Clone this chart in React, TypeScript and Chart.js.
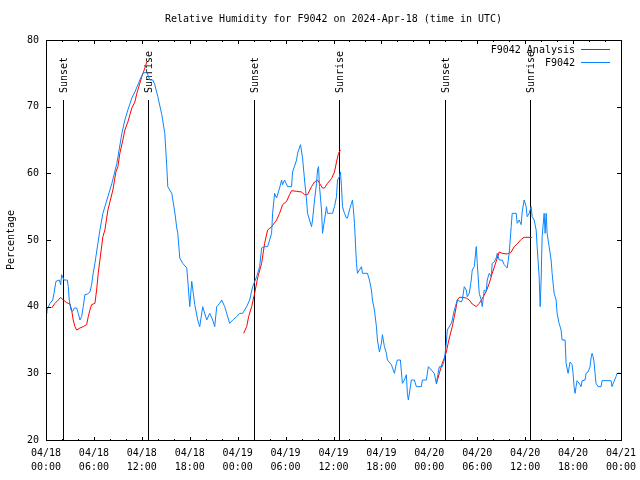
import { useEffect, useRef } from "react";
import { Chart, registerables } from "chart.js";

Chart.register(...registerables);

const FONT = '"DejaVu Sans Mono", "Liberation Mono", monospace';

const chartTitle = "Relative Humidity for F9042 on 2024-Apr-18 (time in UTC)";
const yAxisTitle = "Percentage";
const seriesNames = ["F9042 Analysis", "F9042"];

// x tick labels every 6 hours from 04/18 00:00 to 04/21 00:00
const xTickDates = ["04/18", "04/18", "04/18", "04/18", "04/19", "04/19", "04/19", "04/19", "04/20", "04/20", "04/20", "04/20", "04/21"];
const xTickTimes = ["00:00", "06:00", "12:00", "18:00", "00:00", "06:00", "12:00", "18:00", "00:00", "06:00", "12:00", "18:00", "00:00"];

// sunrise / sunset markers (hours since 04/18 00:00)
const sunHours = [2.125, 12.75, 26.0, 36.75, 50.0, 60.625];
const sunLabels = ["Sunset", "Sunrise", "Sunset", "Sunrise", "Sunset", "Sunrise"];

// Observed F9042 (hours since 04/18 00:00 UTC)
const blueHours = [0, 0.125, 0.5, 0.84, 1.0, 1.25, 1.66, 1.84, 1.96, 2.25, 2.66, 2.79, 2.91, 3.125, 3.34, 3.54, 3.84, 4.04, 4.25, 4.46, 4.66, 4.875, 5.21, 5.5, 5.71, 5.91, 6.125, 6.5, 6.75, 7.125, 7.75, 8.25, 8.875, 9.5, 9.875, 10.25, 10.75, 11.125, 11.75, 12.125, 12.625, 13.0, 13.375, 13.625, 14.0, 14.5, 14.875, 15.125, 15.25, 15.75, 16.125, 16.375, 16.5, 16.75, 17.125, 17.625, 17.75, 18.0, 18.25, 18.625, 19.0, 19.25, 19.625, 20.125, 20.5, 20.875, 21.125, 21.375, 21.75, 22.0, 22.375, 22.625, 23.0, 23.375, 23.875, 24.25, 24.625, 25.125, 25.5, 25.875, 26.375, 26.75, 27.0, 27.375, 27.75, 28.25, 28.375, 28.625, 28.875, 29.25, 29.5, 29.625, 29.875, 30.25, 30.75, 30.875, 31.375, 31.5, 31.875, 32.125, 32.375, 32.625, 32.75, 33.0, 33.25, 33.375, 33.625, 33.875, 34.0, 34.125, 34.25, 34.5, 34.625, 34.875, 35.125, 35.25, 35.75, 35.875, 36.125, 36.375, 36.5, 36.75, 36.875, 37.0, 37.125, 37.375, 37.625, 37.75, 38.0, 38.25, 38.375, 38.5, 38.625, 38.875, 39.0, 39.5, 39.625, 40.25, 40.5, 40.75, 40.875, 41.125, 41.375, 41.5, 41.75, 42.0, 42.125, 42.375, 42.625, 42.75, 43.25, 43.625, 43.875, 44.0, 44.375, 44.625, 44.875, 45.125, 45.25, 45.375, 45.75, 46.125, 46.375, 47.0, 47.125, 47.625, 47.875, 48.25, 48.625, 48.875, 49.25, 49.625, 49.875, 50.125, 50.25, 50.75, 50.875, 51.125, 51.375, 51.5, 52.0, 52.125, 52.375, 52.625, 52.75, 53.0, 53.25, 53.375, 53.625, 53.875, 54.0, 54.25, 54.5, 54.625, 54.875, 55.125, 55.25, 55.5, 55.75, 55.875, 56.125, 56.375, 56.5, 56.75, 57.125, 57.375, 57.75, 58.0, 58.25, 58.375, 58.875, 59.0, 59.25, 59.5, 59.625, 59.875, 60.125, 60.25, 60.5, 60.75, 60.875, 61.125, 61.375, 61.5, 61.75, 61.875, 62.0, 62.125, 62.375, 62.5, 62.625, 62.75, 63.0, 63.25, 63.375, 63.625, 63.875, 64.0, 64.25, 64.5, 64.625, 65.0, 65.125, 65.375, 65.625, 65.875, 66.0, 66.125, 66.25, 66.375, 66.5, 66.875, 67.0, 67.125, 67.5, 67.625, 67.875, 68.125, 68.25, 68.375, 68.5, 68.625, 68.75, 68.875, 69.125, 69.5, 69.625, 70.75, 70.875, 71.125, 71.375, 71.5, 72.0];
const blueValues = [39, 39.5, 40.5, 41, 42, 43.8, 44, 43.3, 44.8, 44, 44, 43, 41, 39.5, 39.3, 39.8, 39.8, 39, 38, 38.5, 40, 41.8, 41.9, 42.2, 43.3, 45, 46.5, 49.5, 51.5, 54, 56.5, 58.5, 61.5, 66, 68, 69.5, 71.3, 72.2, 74, 75, 75.2, 74, 74, 73.3, 71.5, 68.8, 66, 61, 58, 57, 54.2, 51.8, 51, 47.3, 46.5, 45.8, 44, 40, 43.8, 40.3, 38, 37, 40, 38, 39, 38, 37, 40, 40.5, 41, 40, 39, 37.5, 38, 38.5, 39, 39, 40, 41, 43, 44.5, 46, 48.8, 49, 49, 51, 54, 57, 56.3, 57.8, 59, 58.3, 59, 58, 58, 60.2, 62, 63, 64.3, 62.3, 59, 56, 54, 53, 52, 53, 56, 58.5, 60.5, 61, 58, 54.5, 51, 53, 55, 54, 54, 54, 55, 56.5, 59, 59.5, 60.2, 58, 55, 54, 53.3, 53.3, 54.5, 55.5, 56, 54.5, 52.5, 46.5, 45, 46, 45, 45, 44, 42.5, 41, 39.5, 37, 35, 33.2, 34.5, 35.8, 34, 33, 32, 31.3, 30, 31.5, 32, 32, 28.5, 29, 29.8, 27, 26, 29, 29, 28, 28, 29, 29, 31, 30.5, 30, 28.5, 31, 31, 32, 34.5, 36.5, 37.5, 38, 39.5, 40.5, 41, 40.7, 41, 43, 42.5, 41.5, 42, 44, 45.5, 46, 49, 46.5, 42, 41, 40, 42.5, 42.3, 44, 45, 44.5, 46.5, 46.7, 47.3, 48, 47, 47, 46.3, 45.8, 48, 52, 54, 54, 52.5, 53, 52.3, 54.2, 56, 55, 53.5, 54, 55, 53.5, 53, 51.5, 49, 44.5, 40, 44, 50.5, 54, 51, 54, 51, 49, 47, 45, 42, 41, 39, 37.5, 36.5, 35, 35, 31.5, 30, 31.7, 31.3, 30, 28, 27, 28, 28.9, 28.3, 28, 28.9, 29, 30, 30.2, 31, 32.3, 33, 32.5, 31.7, 30, 28.5, 28, 28, 28.9, 28.9, 28, 28.8, 29.5, 30, 30];

// F9042 Analysis (null = gap between segments)
const redHours = [0.71, 1.125, 1.54, 1.84, 2.16, 2.59, 3.0, 3.21, 3.41, 3.625, 3.84, 4.25, 4.66, 5.09, 5.29, 5.5, 5.71, 6.125, 6.34, 6.54, 6.75, 7.125, 7.375, 7.75, 8.375, 8.75, 9.0, 9.25, 9.625, 9.875, 10.25, 10.75, 11.125, 11.375, 11.75, 12.0, 12.375, 12.625,
  18.0,
  24.75, 25.125, 25.375, 25.75, 26.125, 26.5, 27.0, 27.375, 27.75, 28.25, 28.875, 29.25, 29.625, 30.125, 30.5, 30.75, 31.375, 32.0, 32.375, 32.75, 33.25, 33.625, 34.0, 34.25, 34.625, 34.875, 35.25, 35.75, 36.125, 36.375, 36.625, 36.875,
  42.0,
  48.875, 49.25, 49.625, 49.875, 50.125, 50.5, 50.875, 51.125, 51.375, 51.5, 51.75, 52.125, 52.625, 53.0, 53.375, 53.875, 54.25, 54.625, 55.125, 55.5, 55.875, 56.375, 56.75, 57.125, 57.75, 58.25, 58.625, 59.0, 59.5, 59.875, 60.75, 60.875];
const redValues = [39.8, 40.5, 41, 41.4, 41, 40.6, 40.4, 39.5, 38, 37, 36.5, 36.8, 37, 37.3, 38.5, 39.5, 40.3, 40.5, 42.5, 45, 47, 50.5, 51.5, 54.5, 57.5, 60.2, 61, 63, 65, 66.5, 67.7, 69.8, 70.7, 72, 73.5, 74.5, 75.8, 76.7,
  null,
  36, 37, 38.5, 40, 42, 44.3, 46.5, 49.5, 51.5, 52, 53, 54, 55.3, 55.8, 56.8, 57.4, 57.3, 57.2, 56.8, 56.8, 58, 58.7, 59, 58.5, 57.8, 57.8, 58.5, 59.2, 60.2, 61.7, 63, 63.5,
  null,
  28.4, 30, 31.5, 32.3, 33.2, 35.3, 37, 38.5, 40, 41, 41.4, 41.4, 41.3, 41, 40.4, 40, 40.5, 41.2, 42.3, 43.5, 45, 46.8, 48.2, 48, 47.9, 48.2, 49, 49.4, 50.1, 50.4, 50.4, 50.4];

const RED = "#ff0000";
const BLUE = "#0a84ff";

export default function App() {
  const ref = useRef<HTMLCanvasElement | null>(null);

  useEffect(() => {
    if (!ref.current) return;
    const blue = blueHours.map((h, i) => ({ x: h, y: blueValues[i] }));
    const red = redHours.map((h, i) => ({ x: h, y: redValues[i] }));

    const overlay = {
      id: "gnuplotOverlay",
      beforeDatasetsDraw(chart: any) {
        const ctx = chart.ctx as CanvasRenderingContext2D;
        const xs = chart.scales.x;
        const ys = chart.scales.y;
        const { bottom } = chart.chartArea;
        ctx.save();
        ctx.strokeStyle = "#000";
        ctx.fillStyle = "#000";
        ctx.lineWidth = 1;
        ctx.font = `10px ${FONT}`;
        const lineTop = Math.round(ys.getPixelForValue(71));
        sunHours.forEach((h, i) => {
          const px = Math.round(xs.getPixelForValue(h)) + 0.5;
          ctx.beginPath();
          ctx.moveTo(px, lineTop);
          ctx.lineTo(px, bottom);
          ctx.stroke();
          ctx.save();
          ctx.translate(px + 1, lineTop - 7);
          ctx.rotate(-Math.PI / 2);
          ctx.textAlign = "left";
          ctx.textBaseline = "middle";
          ctx.fillText(sunLabels[i], 0, 0);
          ctx.restore();
        });
        ctx.restore();
      },
      afterDraw(chart: any) {
        const ctx = chart.ctx as CanvasRenderingContext2D;
        const xs = chart.scales.x;
        const ys = chart.scales.y;
        const { left, right, top, bottom } = chart.chartArea;
        ctx.save();
        ctx.strokeStyle = "#000";
        ctx.fillStyle = "#000";
        ctx.lineWidth = 1;
        // frame
        ctx.strokeRect(left + 0.5, top + 0.5, right - left, bottom - top);
        // y ticks (inside, mirrored)
        ctx.beginPath();
        for (let v = 20; v <= 80; v += 10) {
          const py = Math.round(ys.getPixelForValue(v)) + 0.5;
          ctx.moveTo(left, py);
          ctx.lineTo(left + 5, py);
          ctx.moveTo(right + 1, py);
          ctx.lineTo(right - 4, py);
        }
        // x ticks every 2 hours, major every 6
        for (let h = 0; h <= 72; h += 2) {
          const px = Math.round(xs.getPixelForValue(h)) + 0.5;
          const len = h % 6 === 0 ? 4 : 2;
          ctx.moveTo(px, bottom + 1);
          ctx.lineTo(px, bottom + 1 - len);
          ctx.moveTo(px, top);
          ctx.lineTo(px, top + len);
        }
        ctx.stroke();

        ctx.font = `10px ${FONT}`;
        ctx.textBaseline = "middle";
        // title
        ctx.textAlign = "center";
        ctx.fillText(chartTitle, (left + right) / 2, 19);
        // y axis title
        ctx.save();
        ctx.translate(11, (top + bottom) / 2);
        ctx.rotate(-Math.PI / 2);
        ctx.fillText(yAxisTitle, 0, 0);
        ctx.restore();
        // legend
        const colors = [RED, BLUE];
        seriesNames.forEach((name, i) => {
          const y = 50 + i * 13;
          ctx.fillStyle = "#000";
          ctx.textAlign = "right";
          ctx.fillText(name, right - 46, y);
          ctx.strokeStyle = colors[i];
          ctx.beginPath();
          ctx.moveTo(right - 40, y - 0.5);
          ctx.lineTo(right - 11, y - 0.5);
          ctx.stroke();
        });
        ctx.restore();
      },
    };

    const chart = new Chart(ref.current, {
      type: "line",
      data: {
        datasets: [
          {
            label: seriesNames[0],
            data: red as any,
            borderColor: RED,
            backgroundColor: RED,
            borderWidth: 1,
            pointRadius: 0,
            spanGaps: false,
            tension: 0,
            order: 1,
          },
          {
            label: seriesNames[1],
            data: blue as any,
            borderColor: BLUE,
            backgroundColor: BLUE,
            borderWidth: 1,
            pointRadius: 0,
            tension: 0,
            order: 0,
          },
        ],
      },
      options: {
        animation: false,
        responsive: false,
        events: [],
        layout: { padding: { left: 0, top: 40, right: 19, bottom: 0 } },
        plugins: {
          legend: { display: false },
          title: { display: false },
          tooltip: { enabled: false },
        },
        scales: {
          x: {
            type: "linear",
            min: 0,
            max: 72,
            grid: { display: false, drawTicks: false },
            border: { display: false },
            ticks: {
              stepSize: 6,
              autoSkip: false,
              maxRotation: 0,
              padding: 6,
              color: "#000",
              font: { family: FONT, size: 10, lineHeight: 1.4 },
              callback: (v: any) => {
                const i = Math.round(Number(v) / 6);
                return [xTickDates[i], xTickTimes[i]];
              },
            },
            afterFit: (s: any) => {
              s.height = 40;
              s.paddingLeft = 0;
              s.paddingRight = 0;
            },
          },
          y: {
            min: 20,
            max: 80,
            grid: { display: false, drawTicks: false },
            border: { display: false },
            ticks: {
              stepSize: 10,
              padding: 7,
              color: "#000",
              font: { family: FONT, size: 10 },
            },
            afterFit: (s: any) => {
              s.width = 46;
              s.paddingTop = 0;
              s.paddingBottom = 0;
            },
          },
        },
      },
      plugins: [overlay],
    });
    return () => chart.destroy();
  }, []);

  return (
    <div style={{ position: "fixed", left: 0, top: 0, width: 640, height: 480, background: "#fff" }}>
      <canvas ref={ref} width={640} height={480} style={{ display: "block" }} />
    </div>
  );
}
